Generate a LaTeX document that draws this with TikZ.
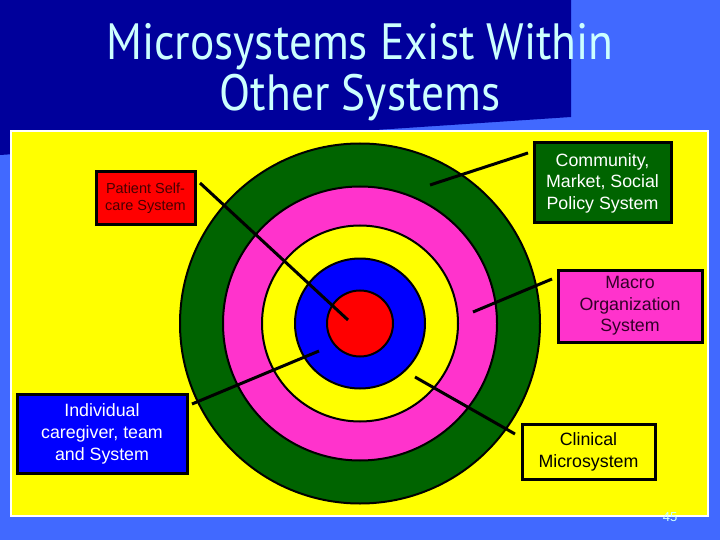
\documentclass[tikz,border=0pt]{standalone}
\usepackage{fontspec}
\setmainfont{Liberation Sans}
\newfontfamily\titlefont{PT Sans}
\definecolor{bgblue}{RGB}{65,105,255}
\definecolor{darkblock}{RGB}{0,0,155}
\definecolor{titletext}{RGB}{204,255,255}
\definecolor{ringgreen}{RGB}{0,100,0}
\definecolor{ringpink}{RGB}{255,51,204}
\definecolor{ringblue}{RGB}{0,0,255}
\definecolor{ringred}{RGB}{255,0,0}
\definecolor{panelyellow}{RGB}{255,255,0}
\definecolor{darkred}{RGB}{70,0,0}
\definecolor{darkpurple}{RGB}{50,0,40}
\tikzset{
  ring/.style={circle, draw=black, line width=2pt, inner sep=0pt},
  labelbox/.style={rectangle, draw=black, line width=3pt, inner sep=0pt, align=center},
  pointer/.style={draw=black, line width=3pt},
}
\begin{document}
\begin{tikzpicture}[x=1pt,y=-1pt]
\useasboundingbox (0,0) rectangle (720,540);
\fill[bgblue] (0,0) rectangle (720,540);
\fill[darkblock] (0,0) -- (571,0) -- (571,117) -- (0,155) -- cycle;
\node[titletext, inner sep=0pt, font=\titlefont\fontsize{51}{49}\selectfont] (title) at (360,74) {\scalebox{0.89}[1]{\begin{tabular}{@{}c@{}}Microsystems Exist Within\\Other Systems\end{tabular}}};
\draw[white, line width=2pt, fill=panelyellow] (11,131) rectangle (708,516);
% rings
\node[ring, fill=ringgreen, minimum size=360] (g) at (360,323.5) {};
\node[ring, fill=ringpink, minimum size=274] (p) at (360,323.5) {};
\node[ring, fill=panelyellow, minimum size=196] (y) at (360,323.5) {};
\node[ring, fill=ringblue, minimum size=130] (b) at (360,323.5) {};
\node[ring, fill=ringred, minimum size=66] (r) at (360,323.5) {};
% pointer ends
\coordinate (pa) at (200,183);
\coordinate (pb) at (348,320);
\coordinate (ca) at (430,185);
\coordinate (cb) at (528,153);
\coordinate (ma) at (473,312);
\coordinate (mb) at (552,279);
\coordinate (ia) at (192,404);
\coordinate (ib) at (319,351);
\coordinate (ka) at (415,377);
\coordinate (kb) at (515,434);
\draw[pointer] (pa) -- (pb);
\draw[pointer] (ca) -- (cb);
\draw[pointer] (ma) -- (mb);
\draw[pointer] (ia) -- (ib);
\draw[pointer] (ka) -- (kb);
% boxes
\node[labelbox, fill=ringred, text=darkred, minimum width=99, minimum height=53, font=\fontsize{14.5}{17}\selectfont] (patient) at (145.5,198.5) {Patient Self-\\care System};
\node[labelbox, fill=ringgreen, text=white, minimum width=137, minimum height=80, font=\fontsize{17.8}{21.5}\selectfont] (community) at (602.5,183) {Community,\\Market, Social\\Policy System};
\node[labelbox, fill=ringpink, text=darkpurple, minimum width=144, minimum height=72, font=\fontsize{17.8}{21.5}\selectfont] (macro) at (630,306) {Macro\\Organization\\System};
\node[labelbox, fill=ringblue, text=white, minimum width=170, minimum height=79, font=\fontsize{17.8}{22}\selectfont] (individual) at (102,434) {Individual\\caregiver, team\\and System};
\node[labelbox, fill=panelyellow, text=black, minimum width=133, minimum height=55, font=\fontsize{17.8}{22}\selectfont] (clinical) at (588.5,452) {Clinical\\Microsystem};
\node[text=titletext, font=\fontsize{13}{13}\selectfont, inner sep=0pt] (num) at (670,517) {45};
\end{tikzpicture}
\end{document}
